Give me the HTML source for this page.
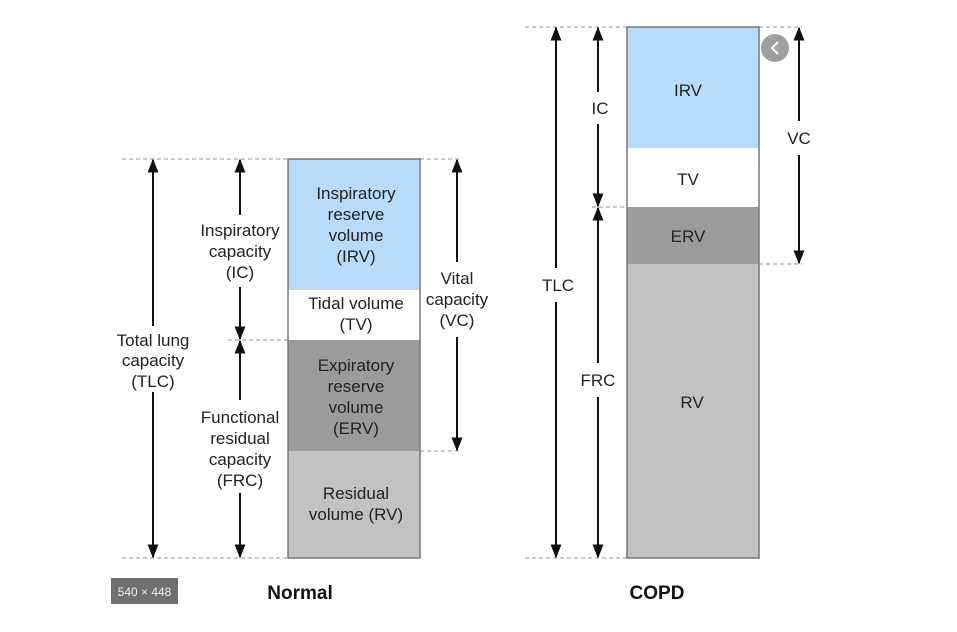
<!DOCTYPE html>
<html><head><meta charset="utf-8"><style>
html,body{margin:0;padding:0;background:#fff;}
svg{display:block;font-family:"Liberation Sans",Arial,sans-serif;}
</style></head><body>
<svg width="957" height="632" viewBox="0 0 957 632" xmlns="http://www.w3.org/2000/svg">
<defs>
<marker id="ah" viewBox="0 0 10 10" refX="9" refY="5" markerWidth="14" markerHeight="11" orient="auto" markerUnits="userSpaceOnUse" preserveAspectRatio="none">
<path d="M0,0 L10,5 L0,10 z" fill="#111"/></marker>
</defs>
<g fill="none" stroke="#aaa" stroke-width="1.3" stroke-dasharray="4,3">
<line x1="122" y1="159" x2="288" y2="159"/><line x1="420" y1="159" x2="462" y2="159"/>
<line x1="228" y1="340" x2="288" y2="340"/><line x1="420" y1="451" x2="462" y2="451"/>
<line x1="122" y1="558" x2="288" y2="558"/>
<line x1="525" y1="27" x2="627" y2="27"/><line x1="759" y1="27" x2="802" y2="27"/>
<line x1="592" y1="207" x2="627" y2="207"/><line x1="759" y1="264" x2="802" y2="264"/>
<line x1="525" y1="558" x2="627" y2="558"/>
</g>
<rect x="288" y="159" width="132" height="131" fill="#b9dbfa"/>
<rect x="288" y="290" width="132" height="50" fill="#fff"/>
<rect x="288" y="340" width="132" height="111" fill="#9b9b9b"/>
<rect x="288" y="451" width="132" height="107" fill="#c2c2c2"/>
<rect x="288" y="159" width="132" height="399" fill="none" stroke="#777" stroke-width="1.5"/>
<rect x="627" y="27" width="132" height="121" fill="#b9dbfa"/>
<rect x="627" y="148" width="132" height="59" fill="#fff"/>
<rect x="627" y="207" width="132" height="57" fill="#9b9b9b"/>
<rect x="627" y="264" width="132" height="294" fill="#c2c2c2"/>
<rect x="627" y="27" width="132" height="531" fill="none" stroke="#777" stroke-width="1.5"/>
<g stroke="#111" stroke-width="2" marker-end="url(#ah)">
<line x1="153" y1="326" x2="153" y2="160"/><line x1="153" y1="392" x2="153" y2="557"/>
<line x1="240" y1="215" x2="240" y2="160"/><line x1="240" y1="287" x2="240" y2="339"/>
<line x1="240" y1="400" x2="240" y2="341"/><line x1="240" y1="493" x2="240" y2="557"/>
<line x1="457" y1="262" x2="457" y2="160"/><line x1="457" y1="337" x2="457" y2="450"/>
<line x1="556" y1="268" x2="556" y2="28"/><line x1="556" y1="302" x2="556" y2="557"/>
<line x1="598" y1="92" x2="598" y2="28"/><line x1="598" y1="124" x2="598" y2="206"/>
<line x1="598" y1="363" x2="598" y2="208"/><line x1="598" y1="397" x2="598" y2="557"/>
<line x1="799" y1="121" x2="799" y2="28"/><line x1="799" y1="155" x2="799" y2="263"/>
</g>
<g font-size="17" fill="#222" text-anchor="middle">
<text x="153" y="346">Total lung</text><text x="153" y="366">capacity</text><text x="153" y="387">(TLC)</text>
<text x="240" y="236">Inspiratory</text><text x="240" y="257">capacity</text><text x="240" y="278">(IC)</text>
<text x="240" y="423">Functional</text><text x="240" y="444">residual</text><text x="240" y="465">capacity</text><text x="240" y="486">(FRC)</text>
<text x="457" y="284">Vital</text><text x="457" y="305">capacity</text><text x="457" y="326">(VC)</text>
<text x="356" y="199">Inspiratory</text><text x="356" y="220">reserve</text><text x="356" y="241">volume</text><text x="356" y="262">(IRV)</text>
<text x="356" y="309">Tidal volume</text><text x="356" y="330">(TV)</text>
<text x="356" y="371">Expiratory</text><text x="356" y="392">reserve</text><text x="356" y="413">volume</text><text x="356" y="434">(ERV)</text>
<text x="356" y="499">Residual</text><text x="356" y="520">volume (RV)</text>
<text x="558" y="291">TLC</text><text x="600" y="114">IC</text><text x="598" y="386">FRC</text><text x="799" y="144">VC</text>
<text x="688" y="96">IRV</text><text x="688" y="185">TV</text><text x="688" y="242">ERV</text><text x="692" y="408">RV</text>
</g>
<g font-size="19" font-weight="bold" fill="#111" text-anchor="middle">
<text x="300" y="599">Normal</text><text x="657" y="599">COPD</text>
</g>
<rect x="111" y="578" width="67" height="26" fill="#707070"/>
<text x="144.5" y="596" font-size="12" fill="#eee" text-anchor="middle">540 × 448</text>
<circle cx="775" cy="48" r="14" fill="#a0a0a0"/>
<path d="M778,42 L772,48 L778,54" fill="none" stroke="#fff" stroke-width="2"/>
</svg>
</body></html>
